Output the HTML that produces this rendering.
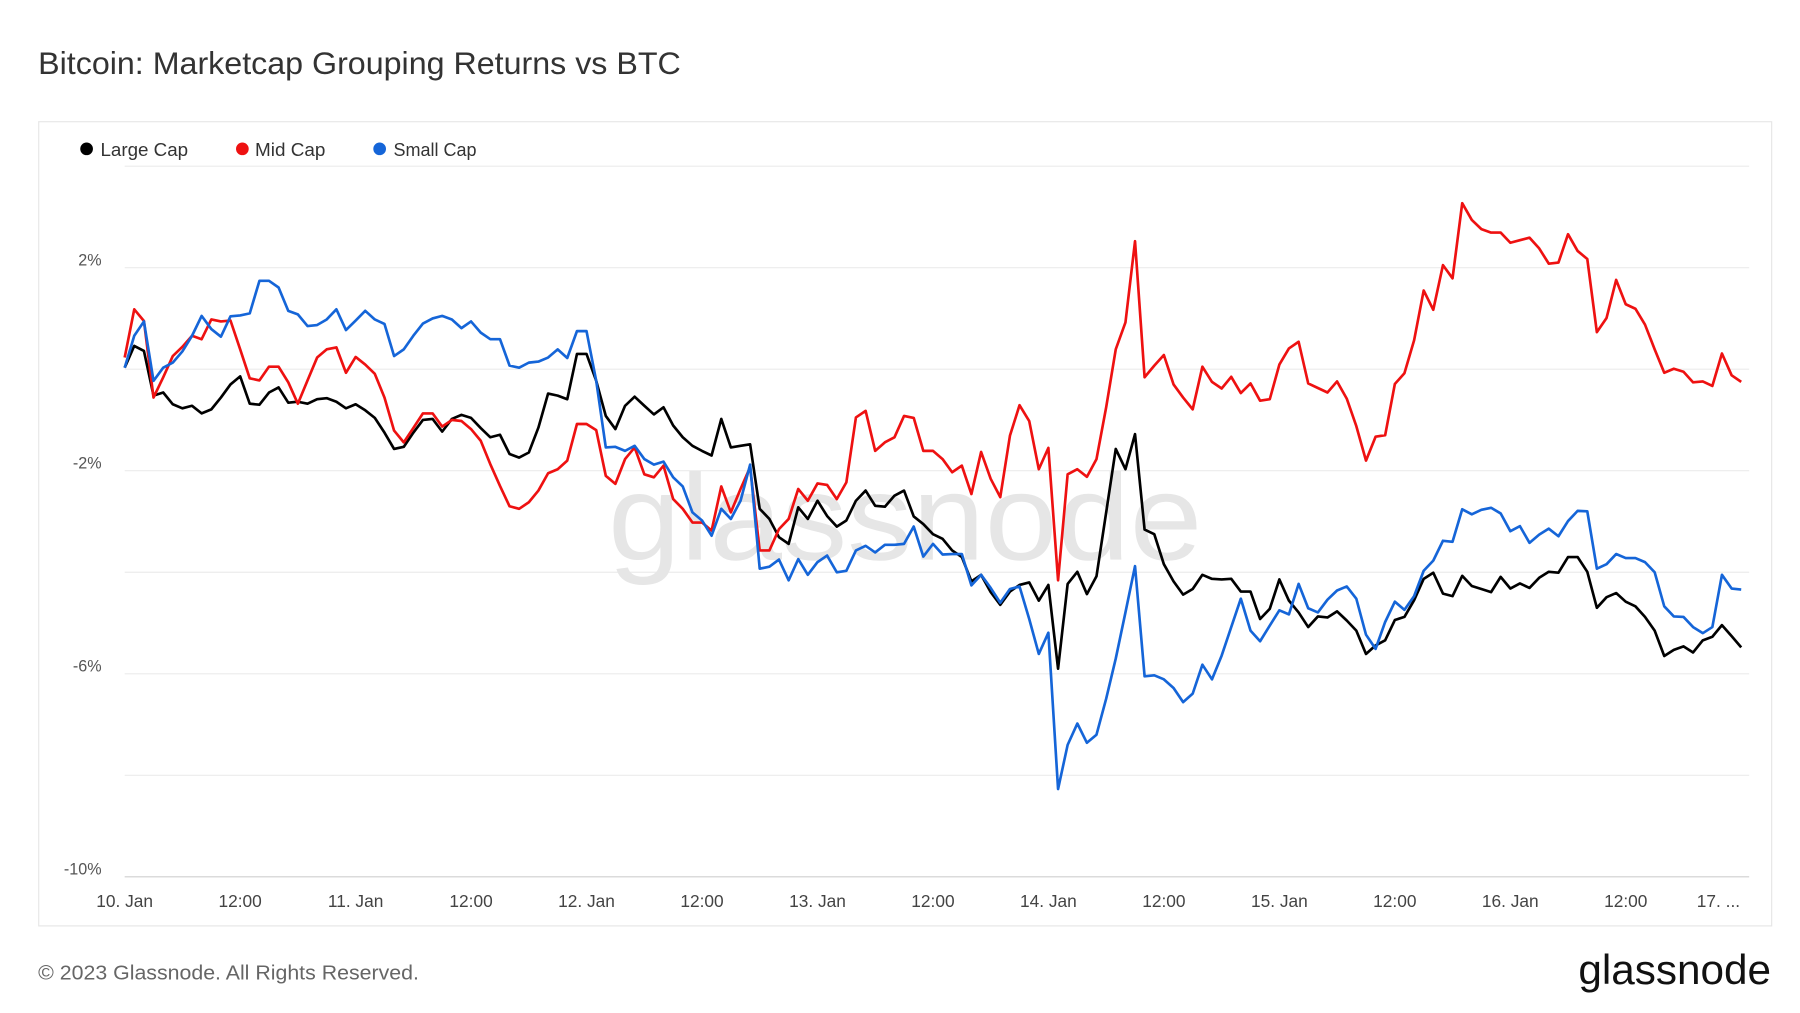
<!DOCTYPE html>
<html><head><meta charset="utf-8"><style>
html,body{margin:0;padding:0;background:#fff;}
svg{display:block;font-family:"Liberation Sans",sans-serif;}
</style></head><body>
<svg id="chart" width="1800" height="1013" viewBox="0 0 1560 878" xmlns="http://www.w3.org/2000/svg">
<rect x="0" y="0" width="1560" height="878" fill="#fff"/>
<text x="33" y="64" font-size="27" fill="#333" textLength="557" lengthAdjust="spacingAndGlyphs">Bitcoin: Marketcap Grouping Returns vs BTC</text>
<rect x="33.5" y="105.5" width="1502" height="697" fill="none" stroke="#e6e6e6" stroke-width="1"/>
<g font-size="16" fill="#333">
 <g><circle cx="75" cy="129" r="5.5" fill="#000"/><text x="87" y="135" textLength="76" lengthAdjust="spacingAndGlyphs">Large Cap</text></g>
 <g><circle cx="210" cy="129" r="5.5" fill="#ee1111"/><text x="221" y="135" textLength="61" lengthAdjust="spacingAndGlyphs">Mid Cap</text></g>
 <g><circle cx="329" cy="129" r="5.5" fill="#1565d8"/><text x="341" y="135" textLength="72" lengthAdjust="spacingAndGlyphs">Small Cap</text></g>
</g>
<g id="grid"></g>
<text x="527" y="485" font-size="106" fill="#e6e6e6" textLength="515" lengthAdjust="spacingAndGlyphs">glassnode</text>
<g id="yaxis"></g>
<g id="xaxis"></g>
<g id="series"></g>
<text x="33" y="849" font-size="18" fill="#666" textLength="330" lengthAdjust="spacingAndGlyphs">© 2023 Glassnode. All Rights Reserved.</text>
<text x="1368" y="853" font-size="36" fill="#111" textLength="167" lengthAdjust="spacingAndGlyphs">glassnode</text>
</svg>
<script>
const yTicks = [4, 2, 0, -2, -4, -6, -8, -10];
const yLabelTicks = [2, -2, -6, -10];
const xTickHours = [0,12,24,36,48,60,72,84,96,108,120,132,144,156,168];
const xTickLabels = ["10. Jan","12:00","11. Jan","12:00","12. Jan","12:00","13. Jan","12:00","14. Jan","12:00","15. Jan","12:00","16. Jan","12:00","17. ..."];
const largeCap = [0.03,0.46,0.36,-0.52,-0.46,-0.69,-0.77,-0.72,-0.87,-0.79,-0.56,-0.3,-0.14,-0.68,-0.7,-0.46,-0.36,-0.66,-0.64,-0.68,-0.59,-0.57,-0.64,-0.77,-0.69,-0.81,-0.96,-1.25,-1.57,-1.53,-1.25,-1.0,-0.98,-1.23,-0.98,-0.9,-0.96,-1.16,-1.34,-1.29,-1.67,-1.74,-1.64,-1.15,-0.48,
-0.52,-0.59,0.3,0.3,-0.23,-0.92,-1.18,-0.72,-0.54,-0.72,-0.89,-0.75,-1.11,-1.34,-1.51,-1.61,-1.7,-0.98,-1.54,-1.51,-1.48,-2.75,-2.95,-3.31,-3.44,-2.72,-2.95,-2.59,-2.89,-3.1,-2.98,-2.59,-2.39,-2.69,-2.71,-2.49,-2.39,-2.9,-3.05,-3.25,-3.34,-3.57,
-3.7,-4.18,-4.05,-4.39,-4.64,-4.38,-4.25,-4.2,-4.56,-4.25,-5.9,-4.23,-3.99,-4.43,-4.08,-2.82,-1.57,-1.97,-1.28,-3.16,-3.25,-3.84,-4.18,-4.44,-4.33,-4.05,-4.13,-4.14,-4.13,-4.38,-4.38,-4.92,-4.72,-4.14,-4.56,-4.79,-5.08,-4.87,-4.89,-4.77,-4.95,-5.15,-5.61,-5.44,-5.34,
-4.94,-4.88,-4.55,-4.13,-4.01,-4.42,-4.47,-4.07,-4.27,-4.33,-4.39,-4.09,-4.32,-4.22,-4.31,-4.11,-3.99,-4.01,-3.7,-3.7,-3.99,-4.7,-4.49,-4.41,-4.58,-4.67,-4.88,-5.15,-5.65,-5.53,-5.46,-5.58,-5.34,-5.27,-5.04,-5.26,-5.48];
const midCap = [0.23,1.18,0.95,-0.56,-0.16,0.26,0.44,0.66,0.59,0.98,0.94,0.96,0.39,-0.18,-0.22,0.05,0.05,-0.26,-0.68,-0.22,0.23,0.39,0.43,-0.07,0.24,0.09,-0.09,-0.56,-1.21,-1.44,-1.16,-0.87,-0.87,-1.13,-1.0,-1.02,-1.18,-1.41,-1.87,-2.3,-2.7,
-2.75,-2.62,-2.39,-2.05,-1.97,-1.8,-1.08,-1.08,-1.2,-2.1,-2.26,-1.77,-1.54,-2.07,-2.13,-1.9,-2.56,-2.75,-3.02,-3.02,-3.18,-2.31,-2.82,-2.36,-1.93,-3.57,-3.57,-3.15,-2.95,-2.36,-2.59,-2.25,-2.28,-2.56,-2.23,-0.95,-0.82,-1.61,-1.44,-1.34,-0.92,-0.96,-1.61,-1.61,-1.77,-2.03,
-1.9,-2.46,-1.63,-2.16,-2.52,-1.31,-0.71,-1.02,-1.97,-1.55,-4.16,-2.07,-1.97,-2.12,-1.77,-0.75,0.39,0.92,2.52,-0.16,0.07,0.28,-0.3,-0.56,-0.79,0.05,-0.25,-0.38,-0.15,-0.47,-0.28,-0.62,-0.59,0.09,0.41,0.54,-0.28,-0.37,-0.46,-0.24,-0.58,-1.12,-1.8,-1.33,-1.3,
-0.29,-0.08,0.57,1.55,1.17,2.05,1.79,3.27,2.94,2.76,2.69,2.69,2.49,2.54,2.59,2.38,2.08,2.1,2.66,2.33,2.17,0.73,1.01,1.76,1.28,1.19,0.88,0.39,-0.07,0.01,-0.05,-0.26,-0.24,-0.33,0.31,-0.12,-0.25];
const smallCap = [0.03,0.66,0.94,-0.23,0.03,0.13,0.35,0.66,1.05,0.79,0.64,1.04,1.06,1.1,1.74,1.74,1.61,1.15,1.08,0.85,0.87,0.98,1.18,0.77,0.96,1.15,0.98,0.89,0.26,0.39,0.66,0.9,1.0,1.05,0.98,0.81,0.94,0.72,0.59,0.59,0.07,
0.03,0.13,0.15,0.23,0.39,0.22,0.75,0.75,-0.23,-1.54,-1.53,-1.61,-1.51,-1.77,-1.88,-1.82,-2.13,-2.31,-2.82,-2.98,-3.28,-2.75,-2.95,-2.59,-1.88,-3.93,-3.89,-3.75,-4.16,-3.74,-4.05,-3.8,-3.67,-4.0,-3.97,-3.57,-3.48,-3.61,-3.46,-3.46,-3.44,-3.1,-3.69,-3.44,-3.65,-3.64,
-3.64,-4.26,-4.05,-4.31,-4.6,-4.33,-4.28,-4.92,-5.61,-5.19,-8.27,-7.4,-6.98,-7.36,-7.2,-6.49,-5.7,-4.79,-3.88,-6.05,-6.03,-6.11,-6.28,-6.56,-6.39,-5.82,-6.11,-5.64,-5.08,-4.52,-5.15,-5.36,-5.05,-4.75,-4.83,-4.23,-4.71,-4.79,-4.54,-4.36,-4.28,-4.52,-5.23,-5.51,-4.98,
-4.58,-4.74,-4.47,-3.97,-3.77,-3.38,-3.4,-2.76,-2.86,-2.77,-2.73,-2.84,-3.19,-3.09,-3.42,-3.26,-3.14,-3.29,-2.99,-2.79,-2.8,-3.93,-3.84,-3.64,-3.72,-3.72,-3.8,-4.0,-4.67,-4.87,-4.88,-5.08,-5.2,-5.08,-4.05,-4.32,-4.34];

const NS = "http://www.w3.org/2000/svg";
const PLOT_L = 108, PLOT_R = 1516;
function xScale(h){ return 108 + h * 8.34; }
function yScale(v){ return 320 - v * 44; }
function mk(tag, attrs, parent){ const e = document.createElementNS(NS, tag); for (const k in attrs) e.setAttribute(k, attrs[k]); parent.appendChild(e); return e; }

const grid = document.getElementById('grid');
yTicks.forEach(v => {
  const l = mk('line', {x1: PLOT_L, x2: PLOT_R, y1: yScale(v), y2: yScale(v), stroke: v === -10 ? '#cfcfcf' : '#ececec', 'stroke-width': 1}, grid);
  
  
});
const yaxis = document.getElementById('yaxis');
yLabelTicks.forEach(v => {
  const t = mk('text', {x: 88, y: yScale(v) - 2, 'font-size': 14, fill: '#555', 'text-anchor': 'end'}, yaxis);
  t.textContent = v + '%';
  
  
});
const xaxis = document.getElementById('xaxis');
xTickHours.forEach((h, i) => {
  const last = i === xTickHours.length - 1;
  const t = mk('text', {x: last ? xScale(h) - 1 : xScale(h), y: 786, 'font-size': 15, fill: '#444', 'text-anchor': last ? 'end' : 'middle'}, xaxis);
  t.textContent = xTickLabels[i];
  
  
});
const series = document.getElementById('series');
[[largeCap, '#000000', 'large-cap-line'], [midCap, '#ee1111', 'mid-cap-line'], [smallCap, '#1565d8', 'small-cap-line']].forEach(([data, color, name]) => {
  const pts = data.map((v, h) => xScale(h).toFixed(1) + ',' + yScale(v).toFixed(1)).join(' ');
  const p = mk('polyline', {points: pts, fill: 'none', stroke: color, 'stroke-width': 2.3, 'stroke-linejoin': 'round'}, series);
  
  
});
</script>
</body></html>
